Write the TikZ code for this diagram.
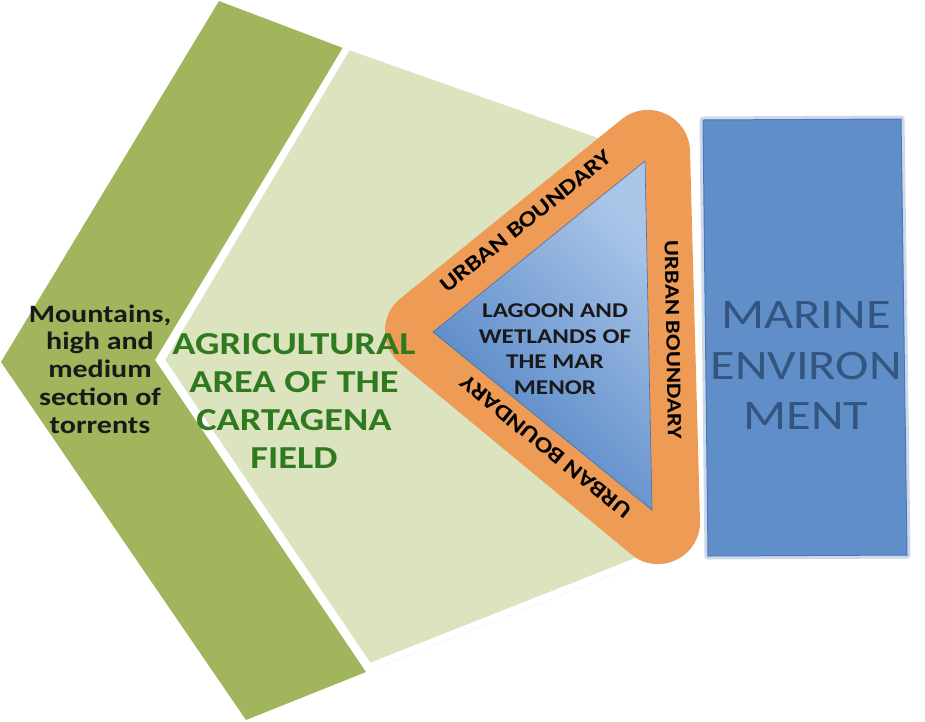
\documentclass[tikz,border=0pt]{standalone}
\usepackage{fontspec}
\newfontfamily\carl{Carlito}[FakeStretch=1.2]
\definecolor{dkgreen}{HTML}{A1B55C}
\definecolor{ltgreen}{HTML}{DBE3BF}
\definecolor{orng}{HTML}{ED9B55}
\definecolor{bluedark}{HTML}{4A7EC2}
\definecolor{bluelight}{HTML}{AAC5E8}
\definecolor{marinefill}{HTML}{5F8EC8}
\definecolor{marineedge}{HTML}{4A78B8}
\definecolor{marineglow}{HTML}{CDD8EA}
\definecolor{marinetext}{HTML}{34557F}
\definecolor{agritext}{HTML}{2F7A1F}
\begin{document}
\begin{tikzpicture}[x=1pt,y=-1pt,
  txt/.style={inner sep=0pt, align=center},
  urban/.style={inner sep=0pt, font=\carl\bfseries\fontsize{22}{24}\selectfont, text=black},
]
\useasboundingbox (0,0) rectangle (925,721);
% dark green chevron
\fill[dkgreen] (219,1) -- (343,48) -- (155,360) -- (366,672) -- (246,720) -- (1,362) -- cycle;
% shadow of light green chevron
\begin{scope}[shift={(2,3)}]
\fill[black!30, opacity=0.6] (348,46) -- (640,149) -- (645,558) -- (369,667) -- (161,360) -- cycle;
\end{scope}
% light green chevron with white border
\filldraw[fill=ltgreen, draw=white, line width=7pt] (348,46) -- (640,149) -- (645,558) -- (369,667) -- (161,360) -- cycle;
% orange urban boundary
\filldraw[fill=orng, draw=orng, line width=84pt, line join=round] (648,152) -- (427,331) -- (658,522) -- cycle;
% lagoon triangle
\shade[left color=bluedark, right color=bluelight, shading angle=135, draw=bluedark!90!black, line width=0.6pt]
  (645,161) -- (433,332) -- (652,510) -- cycle;
% marine box
\draw[marineglow, line width=7pt, line join=round] (703,120) -- (901,119) -- (907,555) -- (708,556) -- cycle;
\filldraw[fill=marinefill, draw=marineedge, line width=1pt] (703,120) -- (901,119) -- (907,555) -- (708,556) -- cycle;
% texts
\node[txt, font=\carl\bfseries\fontsize{25}{27.8}\selectfont, text=black!90] (mount) at (100,369)
  {Mountains,\\high and\\medium\\section of\\torrents};
\node[txt, font=\carl\bfseries\fontsize{32}{37.7}\selectfont, text=agritext] (agri) at (294,401)
  {AGRICULTURAL\\AREA OF THE\\CARTAGENA\\FIELD};
\node[txt, font=\carl\bfseries\fontsize{21}{25.6}\selectfont, text=black!90] (lagoon) at (555,349)
  {LAGOON AND\\WETLANDS OF\\THE MAR\\MENOR};
\node[txt, font=\carl\fontsize{42}{50.5}\selectfont, text=marinetext] (marine) at (806,366)
  {MARINE\\ENVIRON\\MENT};
\node[urban, rotate=38.9] (ub1) at (526,221) {URBAN BOUNDARY};
\node[urban, rotate=-89, font=\carl\bfseries\fontsize{20.5}{24}\selectfont] (ub2) at (673,340) {URBAN BOUNDARY};
\node[urban, rotate=140.9] (ub3) at (546,447) {URBAN BOUNDARY};
\end{tikzpicture}
\end{document}
